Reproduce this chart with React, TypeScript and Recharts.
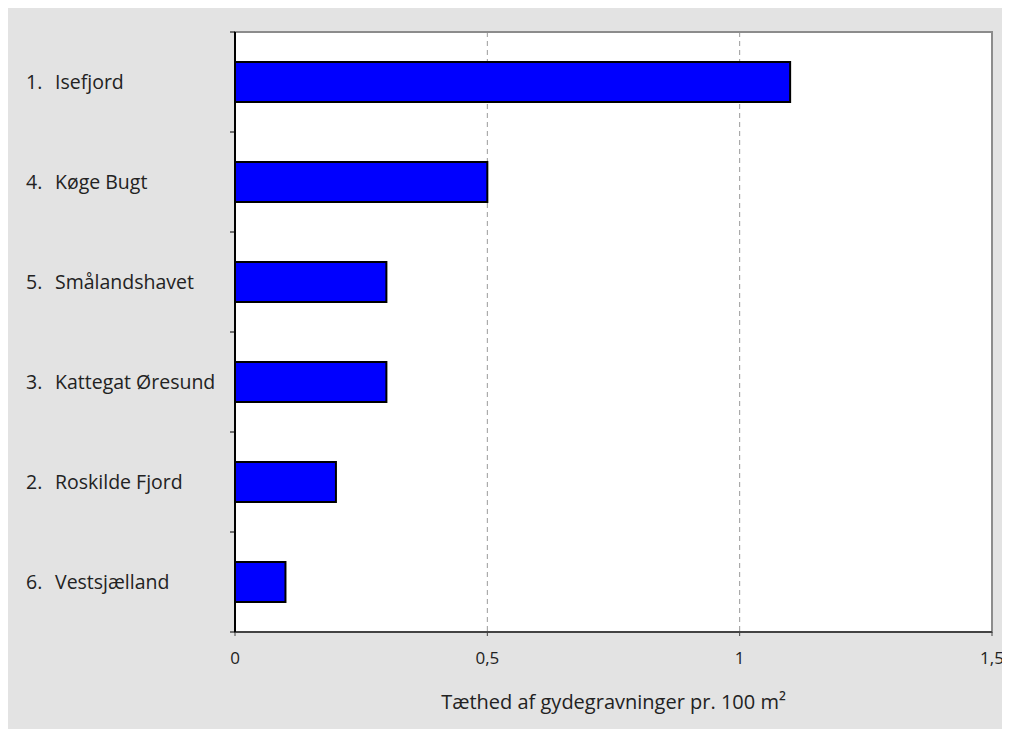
import { BarChart, Bar, XAxis, YAxis, CartesianGrid, ReferenceArea } from "recharts"

const regionNumbers = ["1.", "4.", "5.", "3.", "2.", "6."]
const regionNames = ["Isefjord", "Køge Bugt", "Smålandshavet", "Kattegat Øresund", "Roskilde Fjord", "Vestsjælland"]
const density = [1.1, 0.5, 0.3, 0.3, 0.2, 0.1]
const xTicks = [0, 0.5, 1, 1.5]

const FONT = "'Open Sans', sans-serif"

const data = regionNames.map((name, i) => ({
  name,
  num: regionNumbers[i],
  value: density[i],
}))

// label at band centre, tick marks at band edges
function RegionTick(props: any) {
  const { x, y, payload, index } = props
  const half = payload.offset ?? 0
  const num = regionNumbers[index]
  return (
    <g>
      <line x1={x + 3} x2={x + 8} y1={y - half} y2={y - half} stroke="#000" strokeWidth={1} />
      {index === regionNames.length - 1 && (
        <line x1={x + 3} x2={x + 8} y1={y + half} y2={y + half} stroke="#000" strokeWidth={1} />
      )}
      <text x={18} y={y} dy={7} fontSize={19.5} fontFamily={FONT} fill="#222">
        {num}
      </text>
      <text x={47} y={y} dy={7} fontSize={19.5} fontFamily={FONT} fill="#222">
        {payload.value}
      </text>
    </g>
  )
}

export default function App() {
  return (
    <div style={{ width: 1002, height: 721, background: "#e3e3e3" }}>
      <BarChart
        width={1002}
        height={721}
        data={data}
        layout="vertical"
        margin={{ top: 24, right: 18, left: 0, bottom: 17 }}
        barSize={40}
      >
        <CartesianGrid
          horizontal={false}
          strokeDasharray="5 4"
          stroke="#9a9a9a"
          fill="#fff"
        />
        <ReferenceArea x1={0} x2={1.5} fill="#fff" fillOpacity={0} stroke="#8c8c8c" strokeWidth={2} />
        <XAxis
          type="number"
          domain={[0, 1.5]}
          ticks={xTicks}
          height={80}
          stroke="#444"
          strokeWidth={2}
          tickSize={4}
          tickLine={{ stroke: "#444", strokeWidth: 1 }}
          tickFormatter={(v) => String(v).replace(".", ",")}
          tick={{ fill: "#222", fontSize: 17, fontFamily: FONT, dy: 14 }}
          label={{
            value: "Tæthed af gydegravninger pr. 100 m²",
            position: "insideBottom",
            offset: 3,
            fill: "#222",
            fontSize: 20,
            fontFamily: FONT,
          }}
        />
        <YAxis
          type="category"
          dataKey="name"
          width={227}
          stroke="#000"
          strokeWidth={2}
          tickLine={false}
          interval={0}
          tick={<RegionTick />}
        />
        <Bar dataKey="value" fill="#0000ff" stroke="#000" strokeWidth={2} isAnimationActive={false} />
      </BarChart>
    </div>
  )
}
